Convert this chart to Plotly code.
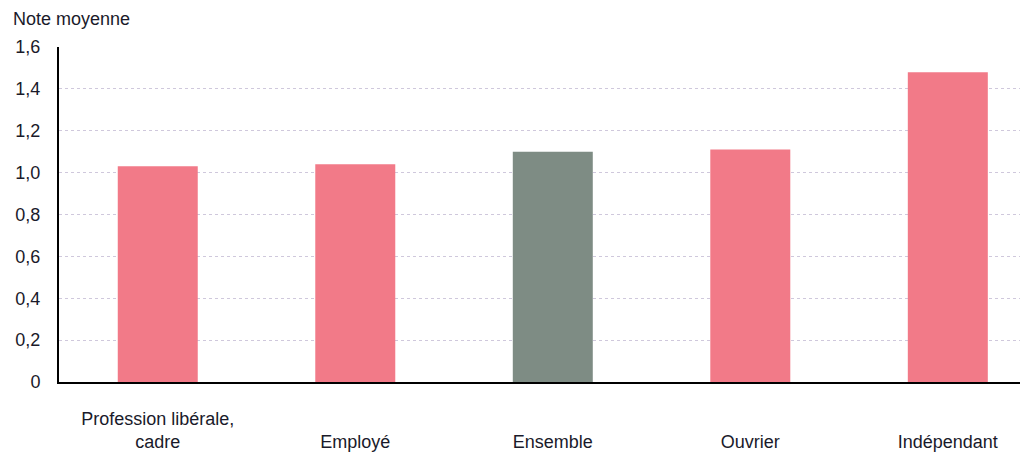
import plotly.graph_objects as go

categories = ["Profession libérale, cadre", "Employé", "Ensemble", "Ouvrier", "Indépendant"]
tick_labels = ["Profession libérale,<br>cadre", "<br>Employé", "<br>Ensemble", "<br>Ouvrier", "<br>Indépendant"]
values = [1.03, 1.04, 1.10, 1.11, 1.48]
bar_colors = ["#F27A88", "#F27A88", "#7E8C84", "#F27A88", "#F27A88"]
y_ticks = [0, 0.2, 0.4, 0.6, 0.8, 1.0, 1.2, 1.4, 1.6]
y_tick_labels = ["0", "0,2", "0,4", "0,6", "0,8", "1,0", "1,2", "1,4", "1,6"]

font = dict(family="Liberation Sans, Arial, sans-serif", size=18, color="#1a1a2a")

fig = go.Figure()
fig.add_trace(go.Bar(
    x=list(range(len(categories))),
    y=values,
    marker=dict(color=bar_colors, line=dict(width=0)),
    width=0.405,
    hovertext=categories,
))

# page body has an 8px default margin, so the figure is sized/offset to compensate
fig.update_layout(
    width=1020, height=447,
    margin=dict(l=51, r=0, t=39, b=73),
    paper_bgcolor="white", plot_bgcolor="white",
    font=font,
    showlegend=False,
    xaxis=dict(
        range=[-0.5, 4.406],
        tickmode="array", tickvals=list(range(len(categories))), ticktext=tick_labels,
        showgrid=False, zeroline=False,
        showline=True, linecolor="black", linewidth=2,
        ticks="", ticklabelstandoff=19, automargin=False,
    ),
    yaxis=dict(
        range=[0, 1.6],
        tickmode="array", tickvals=y_ticks, ticktext=y_tick_labels,
        showgrid=True, gridcolor="#cfc8dc", gridwidth=1, griddash="dot",
        zeroline=False,
        showline=True, linecolor="black", linewidth=2,
        ticks="", ticklabelstandoff=13, automargin=False,
    ),
    annotations=[dict(
        text="Note moyenne", xref="paper", yref="paper", x=0, y=1,
        xanchor="left", yanchor="bottom", xshift=-48, yshift=16,
        showarrow=False, font=font,
    )],
)

fig.write_html("out.html")
